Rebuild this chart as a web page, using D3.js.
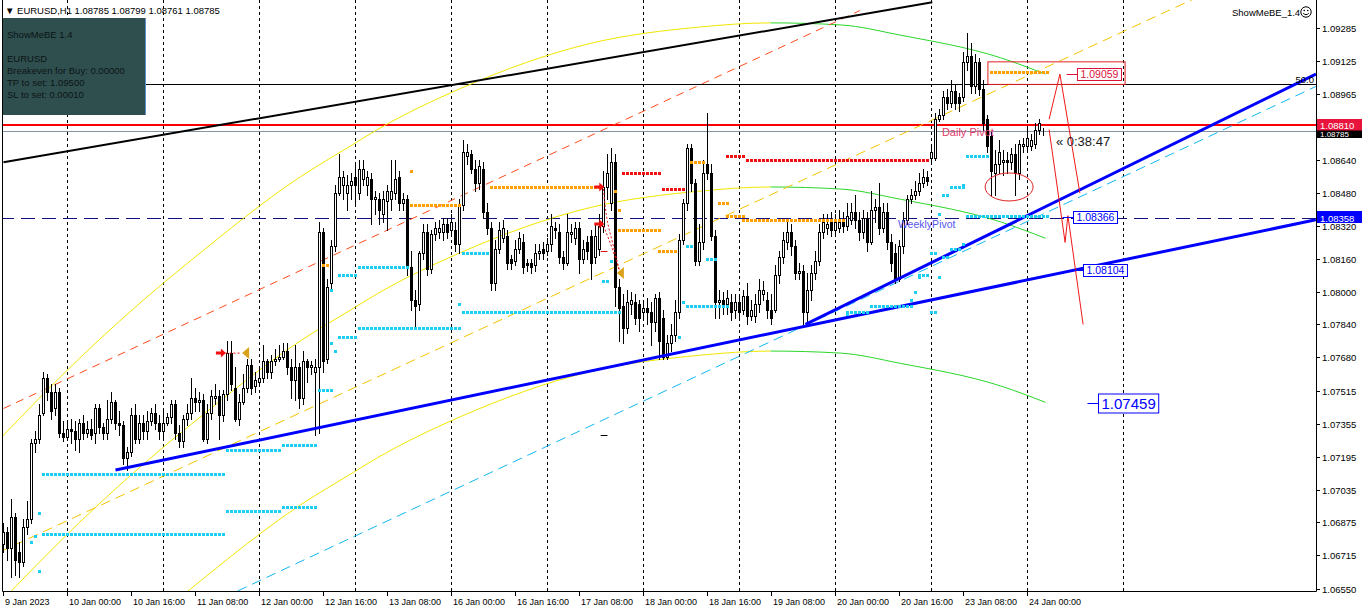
<!DOCTYPE html>
<html><head><meta charset="utf-8"><title>EURUSD,H1</title>
<script src="https://cdn.jsdelivr.net/npm/d3@7"></script>
<style>
html,body{margin:0;padding:0;background:#fff;overflow:hidden;}
svg{display:block;font-family:"Liberation Sans",Arial,sans-serif;}
</style></head>
<body>
<svg id="chart" width="1362" height="612"></svg>
<script>
// ================= DATA =================
const opens=[
1.0677,1.0683,1.0675,1.0690,1.0673,1.0668,1.0685,1.0689,1.0726,1.0728,
1.0741,1.0758,1.0751,1.0743,1.0751,1.0731,1.0729,1.0733,1.0732,1.0728,
1.0736,1.0731,1.0733,1.0731,1.0743,1.0734,1.0731,1.0738,1.0746,1.0736,
1.0735,1.0719,1.0722,1.0740,1.0728,1.0736,1.0732,1.0737,1.0741,1.0736,
1.0732,1.0736,1.0739,1.0745,1.0731,1.0727,1.0738,1.0741,1.0748,1.0746,
1.0747,1.0728,1.0741,1.0748,1.0749,1.0740,1.0750,1.0770,1.0753,1.0738,
1.0746,1.0753,1.0764,1.0754,1.0756,1.0758,1.0766,1.0761,1.0766,1.0767,
1.0768,1.0771,1.0763,1.0757,1.0763,1.0748,1.0766,1.0763,1.0761,1.0763,
1.0829,1.0767,1.0804,1.0822,1.0848,1.0852,1.0848,1.0852,1.0856,1.0848,
1.0855,1.0852,1.0855,1.0845,1.0845,1.0838,1.0844,1.0845,1.0848,1.0856,
1.0843,1.0845,1.0812,1.0796,1.0794,1.0819,1.0829,1.0811,1.0828,1.0829,
1.0829,1.0833,1.0830,1.0830,1.0823,1.0842,1.0866,1.0867,1.0860,1.0853,
1.0860,1.0839,1.0831,1.0804,1.0821,1.0826,1.0827,1.0816,1.0815,1.0821,
1.0824,1.0814,1.0814,1.0813,1.0819,1.0821,1.0820,1.0823,1.0831,1.0829,
1.0817,1.0814,1.0828,1.0826,1.0831,1.0816,1.0824,1.0827,1.0817,1.0821,
1.0832,1.0851,1.0843,1.0863,1.0802,1.0793,1.0782,1.0794,1.0795,1.0794,
1.0790,1.0792,1.0790,1.0785,1.0797,1.0787,1.0768,1.0775,1.0779,1.0790,
1.0825,1.0843,1.0870,1.0853,1.0815,1.0824,1.0862,1.0858,1.0827,1.0795,
1.0796,1.0794,1.0795,1.0791,1.0795,1.0791,1.0798,1.0788,1.0788,1.0794,
1.0799,1.0796,1.0791,1.0791,1.0808,1.0817,1.0824,1.0829,1.0822,1.0809,
1.0810,1.0790,1.0801,1.0809,1.0815,1.0829,1.0831,1.0834,1.0830,1.0831,
1.0834,1.0832,1.0835,1.0839,1.0835,1.0829,1.0836,1.0824,1.0840,1.0841,
1.0831,1.0839,1.0824,1.0819,1.0806,1.0822,1.0835,1.0845,1.0847,1.0849,
1.0853,1.0856,1.0865,1.0865,1.0884,1.0886,1.0895,1.0892,1.0898,1.0895,
1.0895,1.0912,1.0915,1.0900,1.0912,1.0899,1.0884,1.0876,1.0858,1.0862,
1.0863,1.0864,1.0863,1.0867,1.0858,1.0871,1.0871,1.0871,1.0872,1.0879,1.08785];
const highs=[
1.0687,1.0685,1.0699,1.0692,1.0678,1.0689,1.0698,1.0728,1.0732,1.0745,
1.0761,1.0760,1.0755,1.0755,1.0753,1.0737,1.0737,1.0738,1.0737,1.0738,
1.0740,1.0737,1.0738,1.0745,1.0745,1.0736,1.0747,1.0751,1.0747,1.0742,
1.0737,1.0724,1.0743,1.0745,1.0740,1.0740,1.0742,1.0743,1.0745,1.0740,
1.0743,1.0741,1.0747,1.0747,1.0735,1.0740,1.0745,1.0758,1.0753,1.0751,
1.0750,1.0745,1.0752,1.0755,1.0752,1.0752,1.0776,1.0776,1.0763,1.0750,
1.0760,1.0767,1.0767,1.0761,1.0763,1.0774,1.0767,1.0769,1.0772,1.0774,
1.0775,1.0775,1.0767,1.0774,1.0765,1.0771,1.0767,1.0766,1.0767,1.0834,
1.0831,1.0806,1.0825,1.0852,1.0867,1.0859,1.0857,1.0858,1.0862,1.0864,
1.0864,1.0859,1.0858,1.0849,1.0848,1.0849,1.0852,1.0864,1.0864,1.0859,
1.0848,1.0847,1.0820,1.0801,1.0820,1.0833,1.0833,1.0830,1.0834,1.0835,
1.0836,1.0836,1.0838,1.0834,1.0845,1.0874,1.0872,1.0869,1.0864,1.0864,
1.0863,1.0843,1.0834,1.0825,1.0834,1.0835,1.0830,1.0818,1.0825,1.0829,
1.0828,1.0816,1.0816,1.0823,1.0823,1.0824,1.0826,1.0838,1.0834,1.0833,
1.0820,1.0838,1.0833,1.0834,1.0834,1.0825,1.0827,1.0830,1.0833,1.0838,
1.0859,1.0867,1.0870,1.0867,1.0806,1.0799,1.0801,1.0800,1.0799,1.0796,
1.0796,1.0797,1.0795,1.0799,1.0800,1.0791,1.0779,1.0784,1.0796,1.0828,
1.0845,1.0872,1.0872,1.0855,1.0833,1.0864,1.0887,1.0862,1.0830,1.0801,
1.0800,1.0801,1.0799,1.0799,1.0799,1.0801,1.0804,1.0796,1.0799,1.0806,
1.0805,1.0800,1.0799,1.0813,1.0820,1.0829,1.0834,1.0833,1.0825,1.0814,
1.0813,1.0809,1.0813,1.0820,1.0833,1.0838,1.0838,1.0839,1.0838,1.0840,
1.0839,1.0843,1.0843,1.0847,1.0839,1.0840,1.0839,1.0849,1.0845,1.0853,
1.0843,1.0843,1.0828,1.0823,1.0825,1.0839,1.0847,1.0850,1.0854,1.0858,
1.0860,1.0859,1.0872,1.0887,1.0889,1.0898,1.0899,1.0903,1.0901,1.0897,
1.0917,1.0926,1.0921,1.0916,1.0914,1.0903,1.0886,1.0878,1.0869,1.0874,
1.0869,1.0868,1.0870,1.0872,1.0874,1.0875,1.0880,1.0877,1.0882,1.0884,1.08799];
const lows=[
1.0673,1.0669,1.0661,1.0662,1.0661,1.0666,1.0682,1.0687,1.0722,1.0726,
1.0740,1.0747,1.0738,1.0740,1.0729,1.0727,1.0728,1.0726,1.0723,1.0722,
1.0728,1.0729,1.0728,1.0726,1.0731,1.0728,1.0728,1.0736,1.0733,1.0730,
1.0716,1.0713,1.0720,1.0726,1.0726,1.0728,1.0728,1.0735,1.0733,1.0728,
1.0728,1.0735,1.0736,1.0728,1.0724,1.0724,1.0735,1.0738,1.0742,1.0742,
1.0727,1.0726,1.0738,1.0745,1.0728,1.0737,1.0747,1.0752,1.0737,1.0735,
1.0745,1.0751,1.0750,1.0751,1.0755,1.0756,1.0758,1.0758,1.0764,1.0766,
1.0767,1.0760,1.0748,1.0747,1.0743,1.0745,1.0756,1.0760,1.0730,1.0731,
1.0761,1.0765,1.0801,1.0820,1.0847,1.0845,1.0840,1.0845,1.0843,1.0845,
1.0852,1.0847,1.0833,1.0838,1.0833,1.0834,1.0830,1.0840,1.0845,1.0840,
1.0840,1.0808,1.0791,1.0783,1.0791,1.0816,1.0808,1.0809,1.0825,1.0826,
1.0825,1.0826,1.0828,1.0820,1.0819,1.0840,1.0862,1.0858,1.0849,1.0850,
1.0836,1.0828,1.0801,1.0801,1.0819,1.0824,1.0811,1.0811,1.0813,1.0819,
1.0809,1.0810,1.0809,1.0810,1.0816,1.0816,1.0818,1.0820,1.0826,1.0814,
1.0811,1.0813,1.0824,1.0823,1.0809,1.0814,1.0816,1.0806,1.0814,1.0818,
1.0829,1.0845,1.0840,1.0793,1.0776,1.0775,1.0780,1.0789,1.0784,1.0781,
1.0787,1.0784,1.0774,1.0781,1.0767,1.0767,1.0767,1.0771,1.0776,1.0787,
1.0823,1.0840,1.0849,1.0813,1.0813,1.0821,1.0855,1.0825,1.0787,1.0787,
1.0789,1.0789,1.0786,1.0787,1.0786,1.0789,1.0784,1.0786,1.0785,1.0790,
1.0796,1.0787,1.0784,1.0790,1.0804,1.0814,1.0821,1.0818,1.0806,1.0806,
1.0784,1.0785,1.0796,1.0806,1.0813,1.0826,1.0828,1.0827,1.0828,1.0829,
1.0829,1.0830,1.0833,1.0831,1.0825,1.0826,1.0820,1.0823,1.0834,1.0828,
1.0829,1.0821,1.0810,1.0804,1.0805,1.0819,1.0833,1.0843,1.0845,1.0847,
1.0851,1.0852,1.0863,1.0864,1.0883,1.0884,1.0889,1.0890,1.0889,1.0888,
1.0893,1.0908,1.0897,1.0897,1.0896,1.0879,1.0868,1.0847,1.0847,1.0858,
1.0857,1.0858,1.0860,1.0847,1.0855,1.0868,1.0868,1.0869,1.0870,1.0877,1.08761];
const closes=[
1.0683,1.0675,1.0690,1.0669,1.0668,1.0685,1.0689,1.0726,1.0728,1.0740,
1.0758,1.0751,1.0742,1.0751,1.0731,1.0729,1.0733,1.0732,1.0728,1.0736,
1.0731,1.0733,1.0730,1.0743,1.0734,1.0731,1.0738,1.0746,1.0736,1.0735,
1.0719,1.0722,1.0740,1.0728,1.0736,1.0732,1.0737,1.0741,1.0736,1.0732,
1.0736,1.0739,1.0745,1.0731,1.0727,1.0738,1.0741,1.0748,1.0746,1.0747,
1.0728,1.0741,1.0749,1.0749,1.0740,1.0750,1.0770,1.0755,1.0738,1.0746,
1.0753,1.0764,1.0753,1.0757,1.0758,1.0766,1.0761,1.0766,1.0767,1.0768,
1.0771,1.0763,1.0757,1.0763,1.0748,1.0766,1.0763,1.0764,1.0763,1.0829,
1.0766,1.0802,1.0822,1.0848,1.0856,1.0856,1.0852,1.0854,1.0852,1.0860,
1.0860,1.0856,1.0845,1.0846,1.0840,1.0845,1.0849,1.0849,1.0855,1.0843,
1.0845,1.0812,1.0796,1.0793,1.0819,1.0829,1.0811,1.0828,1.0831,1.0831,
1.0833,1.0829,1.0834,1.0823,1.0842,1.0868,1.0868,1.0860,1.0853,1.0861,
1.0839,1.0831,1.0804,1.0821,1.0830,1.0831,1.0814,1.0814,1.0821,1.0826,
1.0812,1.0813,1.0812,1.0819,1.0820,1.0819,1.0823,1.0832,1.0830,1.0817,
1.0814,1.0829,1.0829,1.0831,1.0816,1.0821,1.0820,1.0814,1.0827,1.0832,
1.0851,1.0858,1.0863,1.0802,1.0792,1.0782,1.0795,1.0796,1.0787,1.0787,
1.0792,1.0790,1.0785,1.0797,1.0776,1.0768,1.0775,1.0779,1.0790,1.0825,
1.0843,1.0870,1.0853,1.0815,1.0824,1.0858,1.0858,1.0827,1.0795,1.0796,
1.0794,1.0797,1.0790,1.0795,1.0790,1.0798,1.0788,1.0791,1.0794,1.0801,
1.0801,1.0791,1.0787,1.0808,1.0817,1.0825,1.0829,1.0822,1.0809,1.0810,
1.0790,1.0801,1.0809,1.0815,1.0829,1.0834,1.0833,1.0830,1.0834,1.0834,
1.0832,1.0837,1.0839,1.0835,1.0829,1.0836,1.0824,1.0840,1.0841,1.0831,
1.0839,1.0824,1.0814,1.0806,1.0822,1.0835,1.0845,1.0847,1.0849,1.0853,
1.0856,1.0854,1.0868,1.0884,1.0886,1.0895,1.0892,1.0898,1.0892,1.0892,
1.0912,1.0915,1.0900,1.0912,1.0899,1.0882,1.0871,1.0859,1.0862,1.0868,
1.0864,1.0863,1.0867,1.0858,1.0872,1.0872,1.0875,1.0874,1.0879,1.0882,1.08785];

const timeTickBars=[0,16,32,48,64,80,96,112,128,144,160,176,192,208,224,240,256];
const timeTickLabels=["9 Jan 2023","10 Jan 00:00","10 Jan 16:00","11 Jan 08:00","12 Jan 00:00","12 Jan 16:00","13 Jan 08:00","16 Jan 00:00","16 Jan 16:00","17 Jan 08:00","18 Jan 00:00","18 Jan 16:00","19 Jan 08:00","20 Jan 00:00","20 Jan 16:00","23 Jan 08:00","24 Jan 00:00"];
const dayStartBars=[16,40,64,88,112,136,160,184,208,232,256,280];
const priceTicks=[1.09285,1.09125,1.08965,1.08640,1.08480,1.08320,1.08160,1.08000,1.07840,1.07680,1.07515,1.07355,1.07195,1.07035,1.06875,1.06715,1.06550];

const symbolTitle="EURUSD,H1";
const lastOHLC=[1.08785,1.08799,1.08761,1.08785];
const infoLines=["ShowMeBE 1.4","","EURUSD","Breakeven for Buy: 0.00000","TP to set: 1.09500","SL to set: 0.00010"];

const fibo50Level=1.0901, dailyPivot=1.08810, bidPrice=1.08785, weeklyPivot=1.08358;

// regression-style arc (middle), channel offset, bar where it turns green
const arcMid=[[-1,1.0648],[18.75,1.0687],[39.25,1.0723],[46.75,1.0735],[74.25,1.0776],[86.75,1.0791],[93.5,1.0799],[114.25,1.0819],[146.75,1.0841],[174.25,1.0849],[191.75,1.0851],[209.25,1.0850],[224.25,1.0845],[249.25,1.0834],[260.5,1.0826]];
const arcOffset=0.0080;
const arcGreenFrom=191.75;

const blackTrend=[[0,1.0863],[232.2,1.0941]];
const orangeRedTrend=[[0,1.0743],[214.1,1.0937]];
const goldTrend=[[-1,1.0673],[299,1.0944]];
const skyTrend=[[58.5,1.0654],[328.1,1.0900]];
const blueTrendA=[[28,1.0713],[328.1,1.0835]];
const blueTrendB=[[200.5,1.0784],[328.1,1.0906]];

// dotted levels: [fromBar, toBar, price]
const cyanDots=[[10,55,1.0711],[10,55,1.0682],[56,69,1.0723],[70,78,1.0725],[56,69,1.0693],[70,78,1.0695],[79,82,1.0752],
[84,88,1.0808],[89,101,1.0812],[115,121,1.0819],[84,88,1.0778],[89,114,1.0782],[115,154,1.0790],[150,151,1.0805],
[171,172,1.0822],[176,178,1.0816],[171,181,1.0793],[211,216,1.0790],[217,227,1.0793],[229,231,1.0808],[232,233,1.0819],
[237,239,1.0821],[235,236,1.0847],[237,240,1.0851],[241,246,1.0866],[241,261,1.0837],[232,233,1.0790],
[9,9,1.0692],[8,8,1.0681],[7,7,1.0678],[9,9,1.0664],[82,82,1.0801],[82,82,1.0775],[83,83,1.0771],[114,114,1.0794],
[152,152,1.0815],[170,170,1.0795],[169,169,1.0778],[228,228,1.0800],[227,227,1.0796],[229,229,1.0807],[234,234,1.0807],
[235,236,1.0817],[240,240,1.0823],[234,234,1.0838],[240,240,1.0852],[211,211,1.0789]];
const orangeDots=[[122,149,1.0851],[102,114,1.0842],[102,102,1.0859],[80,81,1.0813],[154,164,1.0830],[164,168,1.0820],
[179,181,1.0843],[181,185,1.0837],[185,210,1.0835],[172,175,1.0863],[153,153,1.0849],[154,154,1.0840],[247,261,1.0907]];
const redDots=[[155,164,1.0858],[165,170,1.0850],[181,185,1.0866],[186,231,1.0864]];

// signal arrows
const redArrows=[[149.2,1.0851],[149.2,1.0833],[54.6,1.0770]];
const goldMarks=[[154.1,1.0809],[60.4,1.0770]];
const signalLinks=[[[150,1.0850],[151,1.0834],[152.5,1.0822],[154,1.0810]],[[150,1.0832],[152,1.0822],[154,1.0810]],[[55.5,1.0770],[59.5,1.0770]]];

// projection zigzags and labels
const zigzag1=[[261.4,1.0884],[264.1,1.0906],[269.1,1.0848]];
const zigzag2=[[261.4,1.0879],[265.4,1.0824],[266.1,1.0837],[269.9,1.0784]];
const projValues=[1.09059,1.08366,1.08104,1.07459];
const projBars=[268.4,267.4,269.9,273.6];
const forecastBox=[246.1,280.4,1.0912,1.0901];
const ellipseCenter=[251.4,1.0851];
const timerText="\u00AB 0:38:47";

// ================= DRAW =================
const svg=d3.select("#chart");
const x=d3.scaleLinear().domain([0,260]).range([3.5,1043.5]);
const y=d3.scaleLinear().domain([1.0655,1.09285]).range([589,28]);
const L=3,R=1316,B=591;
const hy=v=>Math.round(y(v))+0.5;

const defs=svg.append("defs");
defs.append("clipPath").attr("id","plot").append("rect").attr("x",L).attr("y",0).attr("width",R-L).attr("height",B);
const xs=x(arcGreenFrom);
defs.append("clipPath").attr("id","clipY").append("rect").attr("x",L).attr("y",0).attr("width",xs-L).attr("height",B);
defs.append("clipPath").attr("id","clipG").append("rect").attr("x",xs).attr("y",0).attr("width",R-xs).attr("height",B);

svg.append("rect").attr("width",1362).attr("height",612).attr("fill","#fff");
const plot=svg.append("g").attr("clip-path","url(#plot)");

// vertical grid
plot.selectAll("line.grid").data(dayStartBars).join("line")
  .attr("x1",d=>x(d)).attr("x2",d=>x(d)).attr("y1",0).attr("y2",B)
  .attr("stroke","#000").attr("stroke-width",1).attr("stroke-dasharray","3,3");

// horizontal levels
const hline=(v,color,w,dash)=>{plot.append("line").attr("x1",0).attr("x2",R).attr("y1",hy(v)).attr("y2",hy(v))
  .attr("stroke",color).attr("stroke-width",w).attr("stroke-dasharray",dash||null);};
hline(fibo50Level,"#000",1);
hline(weeklyPivot,"#101080",1.2,"14,7");
hline(bidPrice,"#8494A4",1);
plot.append("line").attr("x1",0).attr("x2",R).attr("y1",Math.round(y(dailyPivot))).attr("y2",Math.round(y(dailyPivot)))
  .attr("stroke","#FF0000").attr("stroke-width",2);

// arcs
const curve=d3.line().x(d=>x(d[0])).y(d=>y(d[1])).curve(d3.curveMonotoneX);
[arcOffset,0,-arcOffset].forEach(off=>{
  const pts=arcMid.map(([i,p])=>[i,p+off]);
  plot.append("path").attr("d",curve(pts)).attr("fill","none").attr("stroke","#F2E600").attr("stroke-width",1).attr("clip-path","url(#clipY)");
  plot.append("path").attr("d",curve(pts)).attr("fill","none").attr("stroke","#2BD62B").attr("stroke-width",1).attr("clip-path","url(#clipG)");
});

const seg=d3.line().x(d=>x(d[0])).y(d=>y(d[1]));
const drawSeg=(pts,color,w,dash)=>plot.append("path").attr("d",seg(pts)).attr("fill","none")
  .attr("stroke",color).attr("stroke-width",w).attr("stroke-dasharray",dash||null);
drawSeg(orangeRedTrend,"#FF4A1A",1,"8,6");
drawSeg(goldTrend,"#F5C400",1,"10,6");
drawSeg(skyTrend,"#12B8F0",1,"10,6");
drawSeg(blackTrend,"#000",2);

// candles
const bars=opens.map((o,i)=>({i,o,h:highs[i],l:lows[i],c:closes[i]}));
const cg=plot.append("g");
const cx=d=>Math.floor(x(d.i))+0.5;
cg.selectAll("line.w").data(bars).join("line")
  .attr("x1",cx).attr("x2",cx).attr("y1",d=>Math.round(y(d.h))).attr("y2",d=>Math.round(y(d.l))+1)
  .attr("stroke","#000").attr("stroke-width",1);
cg.selectAll("rect.b").data(bars).join("rect")
  .attr("x",d=>cx(d)-1)
  .attr("y",d=>Math.round(y(Math.max(d.o,d.c)))+0.5)
  .attr("width",2)
  .attr("height",d=>Math.max(0,Math.round(y(Math.min(d.o,d.c)))-Math.round(y(Math.max(d.o,d.c)))))
  .attr("fill",d=>d.c>=d.o?"#fff":"#000").attr("stroke","#000").attr("stroke-width",1);

// blue trend lines
drawSeg(blueTrendA,"#0000FF",3);
drawSeg(blueTrendB,"#0000FF",3);

// dotted level markers
const drawDots=(list,color)=>{
  const pts=[];
  list.forEach(([a,b,p])=>{for(let i=a;i<=b;i++)pts.push([i,p]);});
  plot.append("g").selectAll("rect").data(pts).join("rect")
    .attr("x",d=>Math.floor(x(d[0]))-1).attr("y",d=>Math.round(y(d[1]))-1)
    .attr("width",3).attr("height",3).attr("fill",color);
};
drawDots(cyanDots,"#1CCFF2");
drawDots(orangeDots,"#FFA000");
drawDots(redDots,"#EE1111");

// signal arrows and links
signalLinks.forEach(l=>plot.append("path").attr("d",d3.line().x(d=>x(d[0])).y(d=>y(d[1])).curve(d3.curveMonotoneY)(l))
  .attr("fill","none").attr("stroke","#E01010").attr("stroke-width",1).attr("stroke-dasharray","2,2"));
plot.selectAll("path.arr").data(redArrows).join("path")
  .attr("transform",d=>`translate(${x(d[0])},${y(d[1])})`)
  .attr("d","M-6,-1.5h5v-3l5,4.5l-5,4.5v-3h-5z").attr("fill","#F01010");
plot.selectAll("path.gm").data(goldMarks).join("path")
  .attr("transform",d=>`translate(${x(d[0])},${y(d[1])})`)
  .attr("d","M4,-6L-3,0L4,6z").attr("fill","#D9A21A");
plot.append("line").attr("x1",x(149.3)).attr("x2",x(151)).attr("y1",hy(1.0820)).attr("y2",hy(1.0820)).attr("stroke","#E01010");
plot.append("line").attr("x1",x(149.3)).attr("x2",x(151)).attr("y1",hy(1.0730)).attr("y2",hy(1.0730)).attr("stroke","#000");

// forecast zigzags
[zigzag1,zigzag2].forEach(z=>drawSeg(z,"#F01818",1));

// forecast rectangle
plot.append("rect").attr("x",x(forecastBox[0])).attr("y",y(forecastBox[2]))
  .attr("width",x(forecastBox[1])-x(forecastBox[0])).attr("height",y(forecastBox[3])-y(forecastBox[2]))
  .attr("fill","none").attr("stroke","#E02020").attr("stroke-width",1);

// ellipse
plot.append("ellipse").attr("cx",x(ellipseCenter[0])).attr("cy",y(ellipseCenter[1])).attr("rx",24).attr("ry",14)
  .attr("fill","none").attr("stroke","#E02020").attr("stroke-width",1);

// projection labels
const projColors=["#DC143C","#0000FF","#0000FF","#0000FF"];
const projFont=[10.5,10.5,10.5,15];
projValues.forEach((v,k)=>{
  const x0=Math.round(x(projBars[k]))+0.5, yy=Math.round(y(v))+0.5;
  const txt=v.toFixed(5);
  const t=svg.append("text").attr("x",x0+3).attr("y",yy+projFont[k]*0.36).attr("font-size",projFont[k])
    .attr("fill",projColors[k]).text(txt);
  const w=t.node().getComputedTextLength();
  const hgt=projFont[k]>12?19:12;
  svg.insert("rect","text").attr("x",x0).attr("y",yy-hgt/2).attr("width",w+6).attr("height",hgt)
    .attr("fill","#fff").attr("stroke",projColors[k]).attr("stroke-width",1);
  svg.append("line").attr("x1",x0-11).attr("x2",x0).attr("y1",yy).attr("y2",yy).attr("stroke",projColors[k]);
  t.raise();
});

// pivot texts
svg.append("text").attr("x",x(234.6)).attr("y",y(dailyPivot)+11).attr("font-size",11).attr("fill","#DE3A6A").text("Daily Pivot");
svg.append("text").attr("x",x(223.6)).attr("y",y(weeklyPivot)+10).attr("font-size",10.5).attr("fill","#5656EE").text("WeeklyPivot");
svg.append("text").attr("x",x(263.1)).attr("y",y(bidPrice)+15).attr("font-size",13).attr("fill","#1a1a1a").text(timerText);
svg.append("text").attr("x",R-2).attr("y",hy(fibo50Level)-2).attr("font-size",9.5).attr("text-anchor","end").attr("fill","#000").text("50.0");

// frame
svg.append("line").attr("x1",2.5).attr("x2",2.5).attr("y1",0).attr("y2",B+0.5).attr("stroke","#000");
svg.append("line").attr("x1",2.5).attr("x2",R+0.5).attr("y1",B+0.5).attr("y2",B+0.5).attr("stroke","#000");
svg.append("line").attr("x1",R+0.5).attr("x2",R+0.5).attr("y1",0).attr("y2",B+0.5).attr("stroke","#000");

// price axis
const ax=svg.append("g");
ax.selectAll("line").data(priceTicks).join("line").attr("x1",R).attr("x2",R+4).attr("y1",hy).attr("y2",hy).attr("stroke","#000");
ax.selectAll("text").data(priceTicks).join("text").attr("x",R+6).attr("y",d=>hy(d)+3.5)
  .attr("font-size",9.5).attr("fill","#000").text(d=>d.toFixed(5));
// current level tags
const tag=(v,bg,top,h,fs)=>{
  svg.append("rect").attr("x",R+1).attr("y",top).attr("width",45).attr("height",h).attr("fill",bg);
  svg.append("text").attr("x",R+4).attr("y",top+h-1.5).attr("font-size",fs).attr("fill","#fff").text(v.toFixed(5));
};
const pyR=Math.round(y(dailyPivot));
tag(bidPrice,"#000",pyR+5,8,8);
tag(dailyPivot,"#E8143C",pyR-6,11.5,9.5);
const pyW=Math.round(y(weeklyPivot));
tag(weeklyPivot,"#0000FF",pyW-7,12,9.5);

// time axis
const tx=svg.append("g");
tx.selectAll("line").data(timeTickBars).join("line").attr("x1",d=>x(d)).attr("x2",d=>x(d)).attr("y1",B).attr("y2",B+5).attr("stroke","#000");
tx.selectAll("text").data(timeTickBars).join("text").attr("x",d=>x(d)+1.5).attr("y",605)
  .attr("font-size",9).attr("fill","#000").text((d,k)=>timeTickLabels[k]);

// title
svg.append("text").attr("x",5).attr("y",14).attr("font-size",9.5).attr("fill","#000")
  .text("\u25BC "+symbolTitle+"  "+lastOHLC.map(v=>v.toFixed(5)).join(" "));
svg.append("text").attr("x",1232).attr("y",16).attr("font-size",9.5).attr("fill","#000").text("ShowMeBE_1.4");
const sm=svg.append("g").attr("transform","translate(1306,12)");
sm.append("circle").attr("r",5.2).attr("fill","none").attr("stroke","#000");
sm.append("circle").attr("cx",-1.8).attr("cy",-1.5).attr("r",0.8).attr("fill","#000");
sm.append("circle").attr("cx",1.8).attr("cy",-1.5).attr("r",0.8).attr("fill","#000");
sm.append("path").attr("d","M-2.8,1.2Q0,4.2,2.8,1.2").attr("fill","none").attr("stroke","#000");

// info panel
svg.append("rect").attr("x",3).attr("y",18).attr("width",142).attr("height",97).attr("fill","#2F4F4F");
svg.append("line").attr("x1",145.5).attr("x2",145.5).attr("y1",18).attr("y2",115).attr("stroke","#5A8FC8");
svg.append("g").selectAll("text").data(infoLines).join("text")
  .attr("x",7).attr("y",(d,k)=>38+k*12).attr("font-size",9.5).attr("fill","#0b1414").text(d=>d);
</script>
</body></html>
